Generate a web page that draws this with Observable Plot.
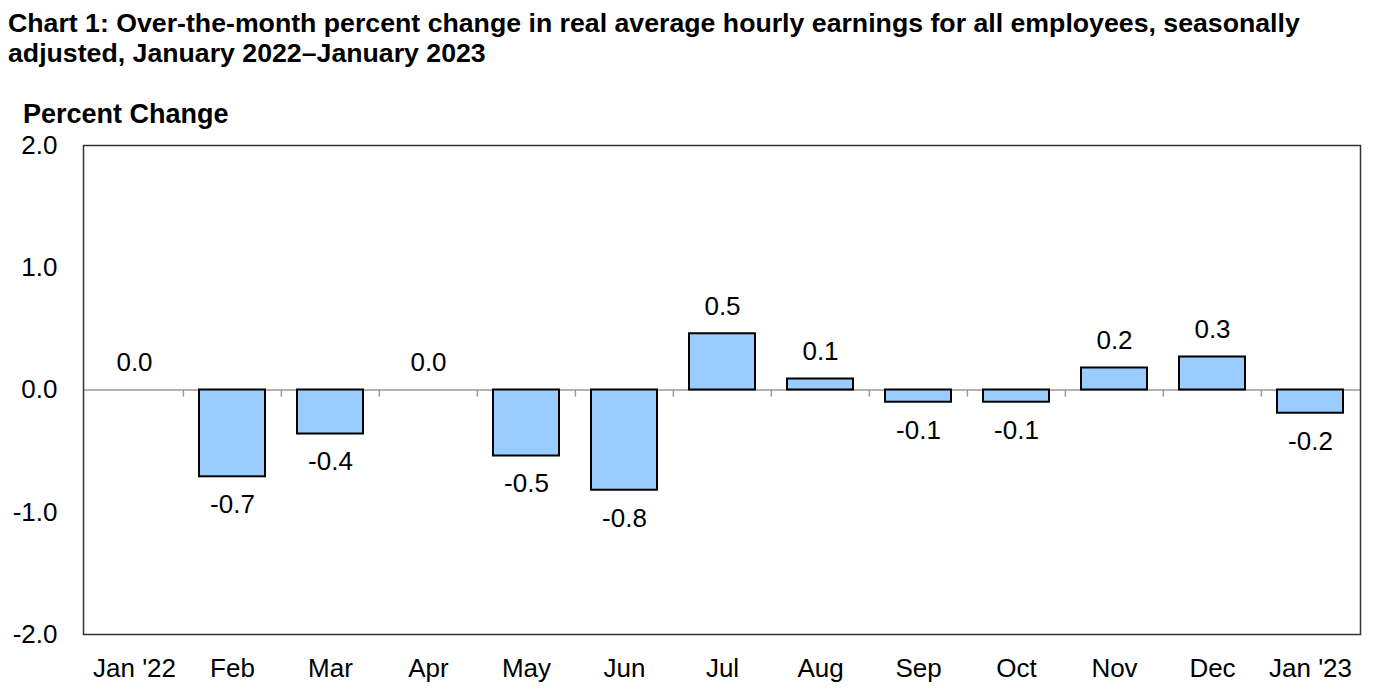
<!DOCTYPE html>
<html>
<head>
<meta charset="utf-8">
<script src="https://cdn.jsdelivr.net/npm/d3@7"></script>
<script src="https://cdn.jsdelivr.net/npm/@observablehq/plot@0.6"></script>
<style>
  html, body { margin: 0; padding: 0; background: #fff; }
  body { width: 1380px; height: 694px; overflow: hidden; font-family: "Liberation Sans", Arial, sans-serif; color: #000; }
  #header { position: relative; height: 130px; }
  #title { position: absolute; left: 8px; top: 8px; font-size: 26.7px; line-height: 30px; font-weight: bold; white-space: nowrap; }
  #ylabel { position: absolute; left: 23px; top: 99px; font-size: 27px; line-height: 30px; font-weight: bold; }
  #chart svg { display: block; }
</style>
</head>
<body>
<div id="header">
  <div id="title">Chart 1: Over-the-month percent change in real average hourly earnings for all employees, seasonally<br>adjusted, January 2022–January 2023</div>
  <div id="ylabel">Percent Change</div>
</div>
<div id="chart"></div>
<script>
const months = ["Jan '22", "Feb", "Mar", "Apr", "May", "Jun", "Jul", "Aug", "Sep", "Oct", "Nov", "Dec", "Jan '23"];
const values = [0.0, -0.71, -0.36, 0.0, -0.54, -0.82, 0.46, 0.09, -0.10, -0.10, 0.18, 0.27, -0.19];
const labels = ["0.0", "-0.7", "-0.4", "0.0", "-0.5", "-0.8", "0.5", "0.1", "-0.1", "-0.1", "0.2", "0.3", "-0.2"];
const yTicks = [-2, -1, 0, 1, 2];

const data = months.map((m, i) => ({month: m, value: values[i], label: labels[i]}));

const W = 1380, H = 564;
const mL = 83, mR = 20, mT = 15, mB = 60;
const step = (W - mL - mR) / months.length;
const tickLen = 0.058;

const chart = Plot.plot({
  width: W,
  height: H,
  marginLeft: mL,
  marginRight: mR,
  marginTop: mT,
  marginBottom: mB,
  style: {fontFamily: "'Liberation Sans', Arial, sans-serif", fontSize: "26px", color: "#000", background: "#fff"},
  x: {domain: months, paddingInner: 0.33, paddingOuter: 0.165, label: null},
  y: {domain: [-2, 2], label: null},
  marks: [
    Plot.axisY({ticks: yTicks, tickFormat: d => d.toFixed(1), tickSize: 0, tickPadding: 26, fontSize: 26, label: null}),
    Plot.axisX({tickSize: 0, tickPadding: 24, fontSize: 26, label: null}),
    Plot.ruleY([0], {stroke: "#9a9a9a", strokeWidth: 1.5}),
    Plot.ruleX(months.slice(1), {x: d => d, y1: 0, y2: -tickLen, dx: -step / 2, stroke: "#9a9a9a", strokeWidth: 1.5}),
    Plot.barY(data.filter(d => d.value !== 0), {x: "month", y: "value", fill: "#99ccff", stroke: "#000", strokeWidth: 2}),
    Plot.text(data.filter(d => d.value >= 0), {x: "month", y: "value", text: "label", dy: -27, fontSize: 26, fill: "#000"}),
    Plot.text(data.filter(d => d.value < 0), {x: "month", y: "value", text: "label", dy: 28, fontSize: 26, fill: "#000"}),
    Plot.frame({stroke: "#333", strokeWidth: 1.5})
  ]
});
document.getElementById("chart").appendChild(chart);
</script>
</body>
</html>
